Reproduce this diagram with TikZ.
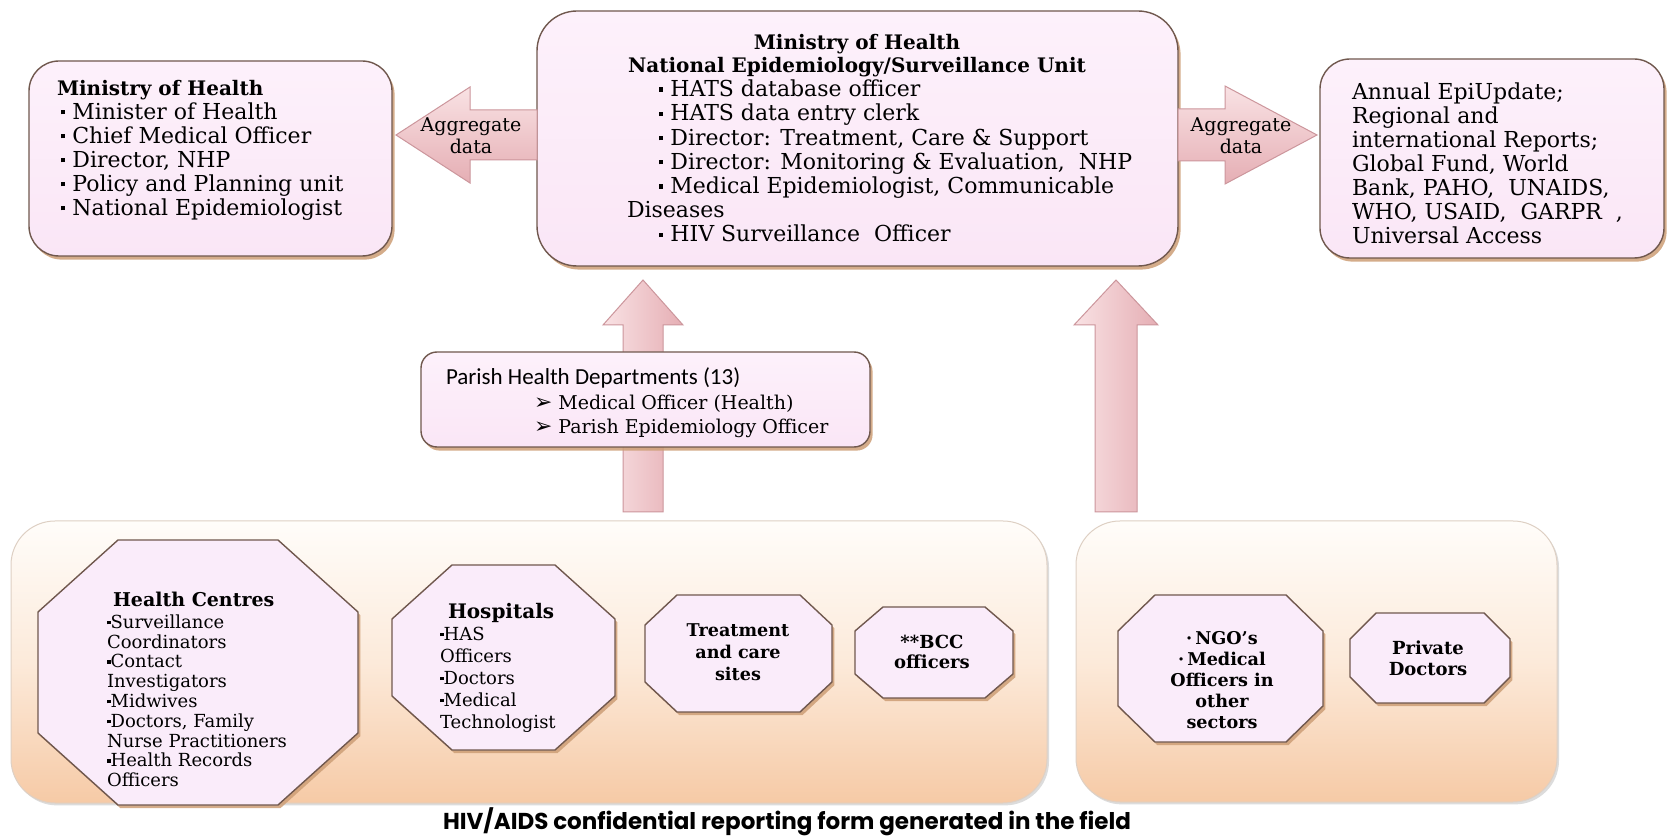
\documentclass[tikz,border=0pt]{standalone}
\usepackage{fontspec}
\setmainfont{DejaVu Serif}
\newfontfamily\calibri{Carlito}
\newfontfamily\gothic{Poppins}
\newfontfamily\symb{DejaVu Sans}
\usetikzlibrary{calc,fit,shadows}

\definecolor{boxfill}{RGB}{250,230,246}
\definecolor{boxtop}{RGB}{253,241,251}
\definecolor{boxedge}{RGB}{112,88,78}
\definecolor{shadowc}{RGB}{205,158,118}
\definecolor{octfill}{RGB}{250,236,250}
\definecolor{fieldtop}{RGB}{255,253,250}
\definecolor{fieldmid}{RGB}{252,234,218}
\definecolor{fieldbot}{RGB}{246,202,166}
\definecolor{fieldedge}{RGB}{222,208,196}
\definecolor{arrowlight}{RGB}{249,226,228}
\definecolor{arrowdark}{RGB}{229,174,180}
\definecolor{arrowedge}{RGB}{204,150,156}

% small square bullet and 3-D arrowhead bullet
\newcommand\bul{\raisebox{0.22em}{\rule{0.2em}{0.2em}}}
\newcommand\abul{\scalebox{1.15}{\symb ➢}}

% octagon drawn on the bounding rectangle of a named node
\newcommand\octo[3]{%
  \path[octbox] ([xshift=#2]#1.north west) -- ([xshift=-#2]#1.north east)
    -- ([yshift=-#3]#1.north east) -- ([yshift=#3]#1.south east)
    -- ([xshift=-#2]#1.south east) -- ([xshift=#2]#1.south west)
    -- ([yshift=#3]#1.south west) -- ([yshift=-#3]#1.north west) -- cycle;}

% block arrow from a tail coordinate to a tip coordinate
% #3 half body width, #4 half head width, #5 head length, #6 style
\newcommand\fatarrow[6]{%
  \coordinate (fa-base) at ($(#2)!#5!(#1)$);
  \path[#6] ($(#1)!#3!90:(#2)$) -- ($(fa-base)!#3!-90:(#1)$)
    -- ($(fa-base)!#4!-90:(#1)$) -- (#2) -- ($(fa-base)!#4!90:(#1)$)
    -- ($(fa-base)!#3!90:(#1)$) -- ($(#1)!#3!-90:(#2)$) -- cycle;}

\tikzset{
  every node/.style={inner sep=0pt, outer sep=0pt},
  box/.style={draw=boxedge, line width=0.7pt, rounded corners=#1,
    top color=boxtop, bottom color=boxfill,
    drop shadow={shadow xshift=1.3pt, shadow yshift=-1.8pt, fill=shadowc, opacity=0.85}},
  box/.default=15pt,
  field/.style={draw=fieldedge, line width=0.5pt, rounded corners=22pt,
    top color=fieldtop, bottom color=fieldbot, middle color=fieldmid,
    drop shadow={shadow xshift=1pt, shadow yshift=-1.2pt, fill=black!30, opacity=0.45}},
  octarea/.style={inner sep=0pt},
  octbox/.style={draw=boxedge, line width=0.7pt, fill=octfill,
    drop shadow={shadow xshift=1.2pt, shadow yshift=-1.6pt, fill=shadowc, opacity=0.85}},
  blockarrow/.style={draw=arrowedge, line width=0.5pt},
  harrow/.style={blockarrow, top color=arrowlight, bottom color=arrowdark},
  varrow/.style={blockarrow, left color=arrowlight, right color=arrowdark},
  txt/.style={align=left, anchor=north west},
  ctxt/.style={align=center, font=\bfseries},
}

\begin{document}
\begin{tikzpicture}[x=0.5pt, y=-0.5pt]
\useasboundingbox (0,0) rectangle (1667,839);
\fill[white] (0,0) rectangle (1667,839);

% field level containers
\node[field, fit={(11,521) (1047,803)}] (field) {};
\node[field, fit={(1076,521) (1557,802)}] (other) {};

% reporting sites
\node[octarea, fit={(38,540) (358,805)}] (hc) {};
\node[octarea, fit={(392,565) (615,750)}] (hosp) {};
\node[octarea, fit={(645,595) (832,712)}] (treat) {};
\node[octarea, fit={(855,607) (1013,698)}] (bcc) {};
\node[octarea, fit={(1118,595) (1323,742)}] (ngo) {};
\node[octarea, fit={(1350,613) (1510,703)}] (priv) {};
\octo{hc}{40pt}{36pt}
\octo{hosp}{30pt}{27pt}
\octo{treat}{16pt}{15pt}
\octo{bcc}{14pt}{12pt}
\octo{ngo}{18.5pt}{18pt}
\octo{priv}{13pt}{13pt}

\node[txt, font=\fontsize{9}{9.9}\selectfont] (hc-text) at (107,592)
  {\hspace*{3pt}{\bfseries\fontsize{9.5}{9.9}\selectfont Health Centres}\\[1pt]
   \bul Surveillance\\ Coordinators\\ \bul Contact\\ Investigators\\
   \bul Midwives\\ \bul Doctors, Family\\ Nurse Practitioners\\
   \bul Health Records\\ Officers};
\node[txt, font=\fontsize{9}{11}\selectfont] (hosp-text) at (440,603)
  {\hspace*{4pt}{\bfseries\fontsize{10}{11}\selectfont Hospitals}\\
   \bul HAS\\ Officers\\ \bul Doctors\\ \bul Medical\\ Technologist};
\node[ctxt, font=\bfseries\fontsize{8.8}{11}\selectfont] (treat-text) at (738,652)
  {Treatment\\ and care\\ sites};
\node[ctxt, font=\bfseries\fontsize{9}{10}\selectfont] (bcc-text) at (932,652)
  {**BCC\\ officers};
\node[ctxt, font=\bfseries\fontsize{8.8}{10.5}\selectfont] (ngo-text) at (1222,680)
  {·\,NGO’s\\ ·\,Medical\\ Officers in\\ other\\ sectors};
\node[ctxt, font=\bfseries\fontsize{9}{10.5}\selectfont] (priv-text) at (1428,658)
  {Private\\ Doctors};

% national level boxes
\node[box, fit={(29,61) (392,256)}] (moh) {};
\node[box=20pt, fit={(537,11) (1178,266)}] (ctr) {};
\node[box, fit={(1320,59) (1664,258)}] (rep) {};

\node[txt, font=\fontsize{11}{12}\selectfont] (moh-text) at (57,80)
  {{\bfseries\fontsize{10}{12}\selectfont Ministry of Health}\\
   \hspace*{2pt}\bul\ Minister of Health\\ \hspace*{2pt}\bul\ Chief Medical Officer\\
   \hspace*{2pt}\bul\ Director, NHP\\ \hspace*{2pt}\bul\ Policy and Planning unit\\
   \hspace*{2pt}\bul\ National Epidemiologist};
\node[ctxt, anchor=north, font=\bfseries\fontsize{10}{11.5}\selectfont] (ctr-title) at (857,34)
  {Ministry of Health\\ National Epidemiology/Surveillance Unit};
\node[txt, font=\fontsize{11}{12.1}\selectfont] (ctr-text) at (627,80)
  {\hspace*{16pt}\bul\ HATS database officer\\
   \hspace*{16pt}\bul\ HATS data entry clerk\\
   \hspace*{16pt}\bul\ Director: Treatment, Care \& Support\\
   \hspace*{16pt}\bul\ Director: Monitoring \& Evaluation,\ \ NHP\\
   \hspace*{16pt}\bul\ Medical Epidemiologist, Communicable\\
   Diseases\\
   \hspace*{16pt}\bul\ HIV Surveillance\ \ Officer};
\node[txt, font=\fontsize{11}{12}\selectfont] (rep-text) at (1352,83)
  {Annual EpiUpdate;\\ Regional and\\ international Reports;\\ Global Fund, World\\
   Bank, PAHO,\ \ UNAIDS,\\ WHO, USAID,\ \ GARPR\ \ ,\\ Universal Access};

% aggregate data flows
\coordinate (aggrow) at (0,135);
\coordinate (la-tail) at (ctr.west |- aggrow);
\coordinate (la-tip) at ($(moh.east |- aggrow)+(4,0)$);
\coordinate (ra-tail) at (ctr.east |- aggrow);
\coordinate (ra-tip) at ($(rep.west |- aggrow)+(-3,0)$);
\fatarrow{la-tail}{la-tip}{12.5pt}{24pt}{37pt}{harrow}
\fatarrow{ra-tail}{ra-tip}{13pt}{24.5pt}{46pt}{harrow}
\node[align=center, font=\fontsize{9.5}{11}\selectfont] (agg-left) at (471,136) {Aggregate\\ data};
\node[align=center, font=\fontsize{9.5}{11}\selectfont] (agg-right) at (1241,136) {Aggregate\\ data};

% upward reporting flows
\coordinate (u1x) at (643,0);
\coordinate (u2x) at (1116,0);
\coordinate (u1-tail) at ($(u1x |- field.north)+(0,-9)$);
\coordinate (u1-tip) at ($(u1x |- ctr.south)+(0,14)$);
\coordinate (u2-tail) at ($(u2x |- other.north)+(0,-9)$);
\coordinate (u2-tip) at ($(u2x |- ctr.south)+(0,14)$);
\fatarrow{u1-tail}{u1-tip}{10pt}{20pt}{22.5pt}{varrow}
\fatarrow{u2-tail}{u2-tip}{10.5pt}{21pt}{22.5pt}{varrow}

% parish level
\node[box=8pt, fit={(421,352) (870,447)}] (parish) {};
\node[txt, font=\fontsize{9.5}{12.25}\selectfont] (parish-text) at (446,368)
  {{\calibri\fontsize{11.5}{12.25}\selectfont Parish Health Departments (13)}\\
   \hspace*{44pt}\abul\ Medical Officer (Health)\\
   \hspace*{44pt}\abul\ Parish Epidemiology Officer};

\node[font=\gothic\bfseries\fontsize{11.5}{13}\selectfont] (caption) at (787,822)
  {HIV/AIDS confidential reporting form generated in the field};
\end{tikzpicture}
\end{document}
